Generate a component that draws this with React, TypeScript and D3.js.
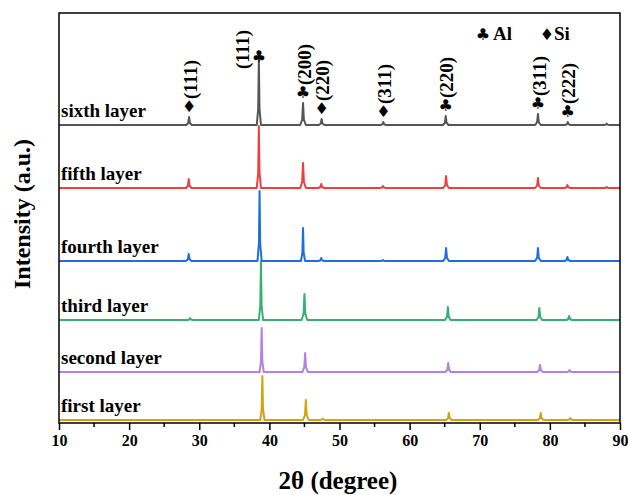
import * as d3 from "d3";
import { useEffect, useRef } from "react";

const W = 628;
const H = 495;

const layerNames = ["first layer", "second layer", "third layer", "fourth layer", "fifth layer", "sixth layer"];
const layerOffsets = [3, 51, 103, 162, 235, 298];
const layerColors = ["#d4a20f", "#b67fe3", "#35b06f", "#1e6fdc", "#ee3f3f", "#555555"];

// [2θ, peak height above baseline]
const peaksFirst = [[39.0, 44], [45.2, 20], [47.6, 1.5], [65.6, 7], [78.7, 7], [82.9, 2]];
const peaksSecond = [[38.9, 44], [45.1, 19], [65.5, 9], [78.6, 7], [82.8, 2]];
const peaksThird = [[28.7, 2], [38.8, 59], [45.0, 26], [65.45, 13], [78.5, 12], [82.75, 4]];
const peaksFourth = [[28.5, 7], [38.6, 70], [44.8, 33], [47.4, 3], [56.2, 1], [65.2, 13], [78.3, 13], [82.5, 4]];
const peaksFifth = [[28.5, 9], [38.5, 62], [44.8, 25], [47.4, 4], [56.2, 2], [65.2, 12], [78.3, 10], [82.5, 3], [88.1, 1]];
const peaksSixth = [[28.55, 8], [38.5, 66], [44.8, 22], [47.45, 6], [56.25, 3], [65.15, 9], [78.3, 11], [82.55, 3], [88.1, 1.5]];
const layerPeaks = [peaksFirst, peaksSecond, peaksThird, peaksFourth, peaksFifth, peaksSixth];

const annoPos = [28.55, 38.5, 44.8, 47.45, 56.25, 65.15, 78.3, 82.55];
const annoPhase = ["Si", "Al", "Al", "Si", "Si", "Al", "Al", "Al"];
const annoHkl = ["(111)", "(111)", "(200)", "(220)", "(311)", "(220)", "(311)", "(222)"];

const xTicks = [10, 20, 30, 40, 50, 60, 70, 80, 90];
const xMinor = [15, 25, 35, 45, 55, 65, 75, 85];

const CLUB = "\u2663";
const DIAMOND = "\u2666";
const serif = "'Liberation Serif', 'Times New Roman', serif";

export default function App() {
  const svgRef = useRef<SVGSVGElement>(null);

  useEffect(() => {
    const svg = d3.select(svgRef.current);
    svg.selectAll("*").remove();

    const margin = { left: 59, right: 8, top: 13, bottom: 72 };
    const x = d3.scaleLinear().domain([10, 90]).range([margin.left, W - margin.right]);
    const y = d3.scaleLinear().domain([0, 410]).range([H - margin.bottom, margin.top]);

    // traces
    const line = d3.line<number[]>().x(d => x(d[0])).y(d => y(d[1]));
    layerPeaks.forEach((peaks, i) => {
      const base = layerOffsets[i];
      const pts: number[][] = [[10, base]];
      peaks.forEach(([p, h]) => {
        const w = h > 30 ? 0.3 : 0.4;
        pts.push([p - w, base], [p - w * 0.3, base + h * 0.25], [p, base + h], [p + w * 0.3, base + h * 0.25], [p + w, base]);
      });
      pts.push([90, base]);
      svg.append("path")
        .attr("d", line(pts))
        .attr("fill", "none")
        .attr("stroke", layerColors[i])
        .attr("stroke-width", 2)
        .attr("stroke-linejoin", "round");

      svg.append("text")
        .attr("x", x(10) + 2)
        .attr("y", y(base) - 8)
        .attr("font-family", serif)
        .attr("font-weight", "bold")
        .attr("font-size", 19)
        .attr("fill", "#000")
        .text(layerNames[i]);
    });

    // frame
    svg.append("rect")
      .attr("x", x(10)).attr("y", margin.top)
      .attr("width", x(90) - x(10)).attr("height", y(0) - margin.top)
      .attr("fill", "none").attr("stroke", "#000").attr("stroke-width", 1.5);

    const xAxis = svg.append("g").attr("transform", `translate(0,${y(0)})`);
    xAxis.call(d3.axisBottom(x).tickValues(xTicks).tickSize(7).tickPadding(5).tickFormat(d3.format("d")));
    xAxis.select(".domain").remove();
    xAxis.selectAll("line").attr("stroke-width", 1.5);
    xAxis.selectAll("text")
      .attr("font-family", serif).attr("font-weight", "bold").attr("font-size", 16).attr("fill", "#000");
    xAxis.selectAll(".minor").data(xMinor).join("line")
      .attr("x1", d => x(d)).attr("x2", d => x(d))
      .attr("y1", 0).attr("y2", 4)
      .attr("stroke", "#000").attr("stroke-width", 1.5);

    svg.append("text")
      .attr("x", 338)
      .attr("y", 489)
      .attr("text-anchor", "middle")
      .attr("font-family", serif).attr("font-weight", "bold").attr("font-size", 25)
      .text("2\u03b8 (degree)");

    svg.append("text")
      .attr("transform", `translate(30,214) rotate(-90)`)
      .attr("text-anchor", "middle")
      .attr("font-family", serif).attr("font-weight", "bold").attr("font-size", 24)
      .text("Intensity (a.u.)");

    // peak annotations on the sixth layer
    const top = layerOffsets[5];
    annoPos.forEach((p, i) => {
      const pk = peaksSixth.find(d => Math.abs(d[0] - p) < 0.01);
      const py = y(top + (pk ? pk[1] : 0));
      const tall = pk && pk[1] > 30;
      const sy = tall ? py + 3 : py - 5;
      svg.append("text")
        .attr("x", x(p)).attr("y", sy)
        .attr("text-anchor", "middle")
        .attr("font-family", "'DejaVu Sans', sans-serif")
        .attr("font-size", 16)
        .text(annoPhase[i] === "Al" ? CLUB : DIAMOND);
      const lx = tall ? x(p) - 17 : x(p) + 1;
      const ly = tall ? sy + 7 : sy - 13;
      svg.append("text")
        .attr("transform", `translate(${lx},${ly}) rotate(-90)`)
        .attr("dy", "0.35em")
        .attr("font-family", serif).attr("font-weight", "bold").attr("font-size", 19)
        .text(annoHkl[i]);
    });

    // legend
    const lg = svg.append("g").attr("font-family", serif).attr("font-weight", "bold").attr("font-size", 19);
    lg.append("text").attr("x", 483).attr("y", 40).attr("text-anchor", "middle")
      .attr("font-family", "'DejaVu Sans', sans-serif").attr("font-size", 16).text(CLUB);
    lg.append("text").attr("x", 493).attr("y", 40).text("Al");
    lg.append("text").attr("x", 547).attr("y", 40).attr("text-anchor", "middle")
      .attr("font-family", "'DejaVu Sans', sans-serif").attr("font-size", 16).text(DIAMOND);
    lg.append("text").attr("x", 554).attr("y", 40).text("Si");
  }, []);

  return (
    <svg ref={svgRef} width={W} height={H}
      style={{ position: "absolute", left: 0, top: 0, background: "#fff" }} />
  );
}
